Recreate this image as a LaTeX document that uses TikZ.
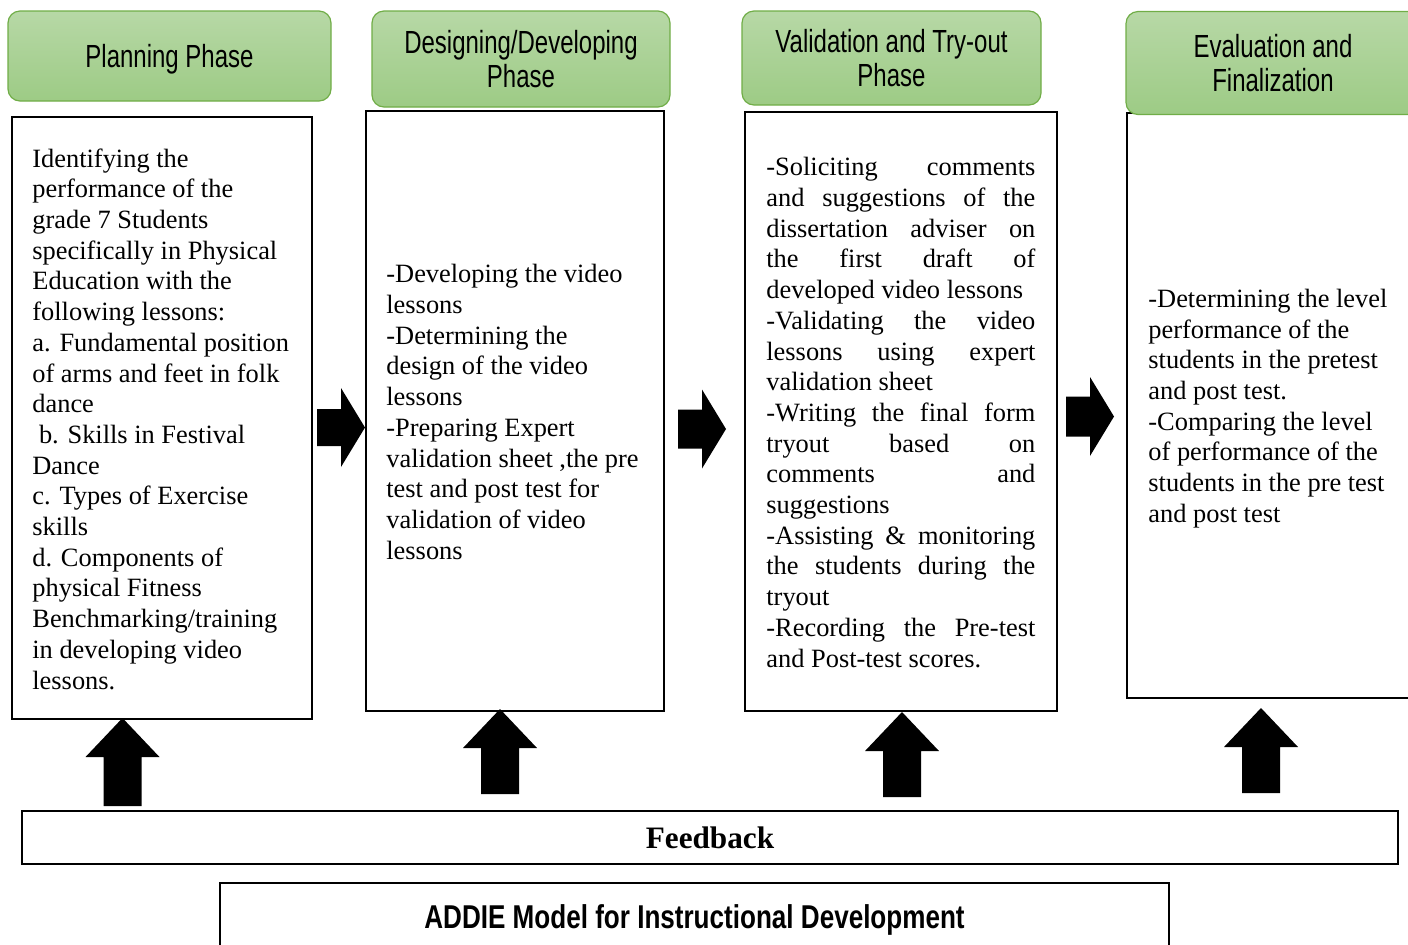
\documentclass[tikz,border=0pt]{standalone}
\usepackage{fontspec}
\setmainfont{Liberation Serif}
\newfontfamily\headfont[FakeStretch=0.75]{Liberation Sans}
\newfontfamily\titlefont[FakeStretch=0.79]{Liberation Sans}
\usepackage{xcolor}
\usetikzlibrary{positioning}

\definecolor{phasetop}{RGB}{183,216,166}
\definecolor{phasebot}{RGB}{157,203,133}
\definecolor{phaseline}{RGB}{112,173,71}

% one justified line of the try-out list
\newcommand{\jline}[1]{\makebox[134.5pt][s]{#1}}

\begin{document}
\begin{tikzpicture}[
    x=0.5pt, y=-0.5pt,
    phase/.style={rectangle, rounded corners=6pt, draw=phaseline, line width=0.6pt, top color=phasetop, bottom color=phasebot, align=center, inner sep=0pt, text depth=0pt, font=\headfont\fontsize{16}{17}\selectfont},
    panel/.style={rectangle, draw, line width=1pt, fill=white, inner sep=0pt},
    body/.style={align=left, inner sep=0pt, font=\fontsize{13.2}{15.35}\selectfont},
    bar/.style={rectangle, draw, line width=1pt, inner sep=0pt}
]
    \useasboundingbox (0,0) rectangle (1408,944);
    \clip (0,0) rectangle (1408,944);

    % content panels
    \node[panel, minimum width=150pt, minimum height=301pt] (plan) at (162,418) {};
    \node[panel, minimum width=149pt, minimum height=300pt] (design) at (515,411) {};
    \node[panel, minimum width=156pt, minimum height=299.5pt] (valid) at (901,411.5) {};
    \node[panel, minimum width=149pt, minimum height=292.5pt] (eval) at (1276,405.5) {};

    % phase headers
    \node[phase, minimum width=161.5pt, minimum height=45pt] (hplan) at (169.5,56) {Planning Phase};
    \node[phase, minimum width=149pt, minimum height=48pt] (hdesign) at (521,59) {Designing/Developing\\Phase};
    \node[phase, minimum width=149.5pt, minimum height=47pt] (hvalid) at (891.5,58) {Validation and Try-out\\Phase};
    \node[phase, minimum width=147pt, minimum height=51.5pt] (heval) at (1273,63) {Evaluation and\\Finalization};

    % panel texts
    \node[body, right=10.5pt of plan.west, yshift=-0.5pt] (tplan) {Identifying the\\performance of the\\grade 7 Students\\specifically in Physical\\Education with the\\following lessons:\\a. Fundamental position\\of arms and feet in folk\\dance\\\hspace*{3.3pt}b. Skills in Festival\\Dance\\c. Types of Exercise\\skills\\d. Components of\\physical Fitness\\Benchmarking/training\\in developing video\\lessons.};
    \node[body, right=10.5pt of design.west, yshift=-0.5pt] (tdesign) {-Developing the video\\lessons\\-Determining the\\design of the video\\lessons\\-Preparing Expert\\validation sheet ,the pre\\test and post test for\\validation of video\\lessons};
    \node[body, right=11pt of valid.west, yshift=-0.5pt] (tvalid) {\jline{-Soliciting comments}\\\jline{and suggestions of the}\\\jline{dissertation adviser on}\\\jline{the first draft of}\\developed video lessons\\\jline{-Validating the video}\\\jline{lessons using expert}\\validation sheet\\\jline{-Writing the final form}\\\jline{tryout based on}\\\jline{comments and}\\suggestions\\\jline{-Assisting \& monitoring}\\\jline{the students during the}\\tryout\\\jline{-Recording the Pre-test}\\and Post-test scores.};
    \node[body, right=11pt of eval.west, yshift=-1.5pt] (teval) {-Determining the level\\performance of the\\students in the pretest\\and post test.\\-Comparing the level\\of performance of the\\students in the pre test\\and post test};

    % block arrows between the panels
    \foreach \x/\y/\s in {317/427.5/18.5, 678/429/19.5, 1066/416.5/20}
        \fill (\x,\y-\s) -- (\x+24,\y-\s) -- (\x+24,\y-39.5) -- (\x+48,\y) -- (\x+24,\y+39.5) -- (\x+24,\y+\s) -- (\x,\y+\s) -- cycle;

    % feedback arrows up into the panels
    \foreach \x/\t/\b in {122.5/718/806, 500/709/794, 902/712/797, 1261/708/793}
        \fill (\x,\t) -- (\x+37,\t+39) -- (\x+19,\t+39) -- (\x+19,\b) -- (\x-19,\b) -- (\x-19,\t+39) -- (\x-37,\t+39) -- cycle;

    \node[bar, minimum width=688pt, minimum height=26.5pt, text depth=0pt, font=\fontsize{15.6}{18}\selectfont\bfseries] (feedback) at (710,837.5) {Feedback};
    \node[bar, minimum width=474.5pt, minimum height=34pt, text depth=0pt, font=\titlefont\fontsize{16.5}{19}\selectfont\bfseries] (addie) at (694.5,917) {ADDIE Model for Instructional Development};
\end{tikzpicture}
\end{document}
